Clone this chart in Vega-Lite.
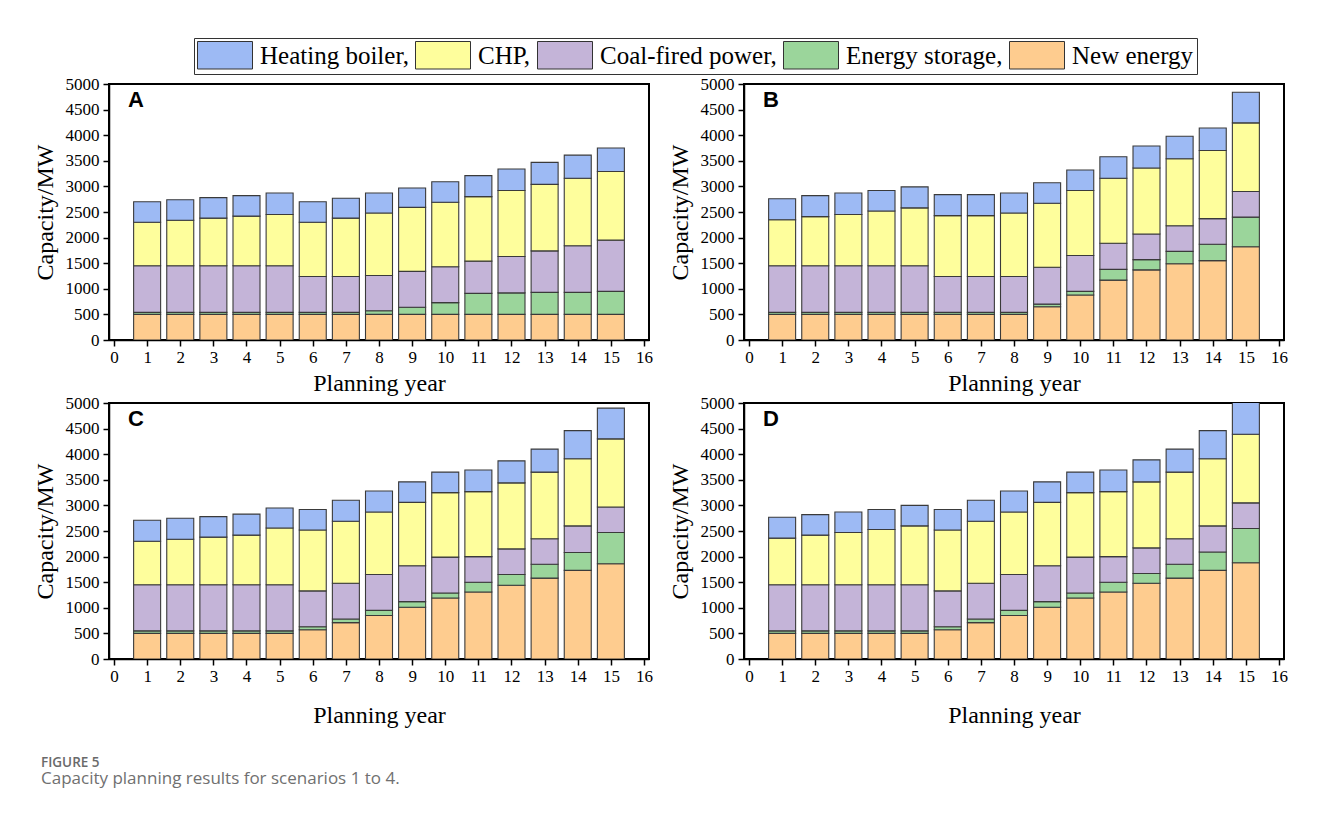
{
  "$schema": "https://vega.github.io/schema/vega-lite/v6.json",
  "background": "white",
  "padding": {"left": 32, "top": 37, "right": 10, "bottom": 10},
  "datasets": {
    "types": [
      {"key": "ne", "type": "New energy", "rank": 1},
      {"key": "es", "type": "Energy storage", "rank": 2},
      {"key": "cf", "type": "Coal-fired power", "rank": 3},
      {"key": "chp", "type": "CHP", "rank": 4},
      {"key": "hb", "type": "Heating boiler", "rank": 5}
    ],
    "cap": [
      {"panel": "A", "year": 1, "ne": 500, "es": 40, "cf": 910, "chp": 850, "hb": 400},
      {"panel": "A", "year": 2, "ne": 500, "es": 40, "cf": 910, "chp": 890, "hb": 400},
      {"panel": "A", "year": 3, "ne": 500, "es": 40, "cf": 910, "chp": 930, "hb": 400},
      {"panel": "A", "year": 4, "ne": 500, "es": 40, "cf": 910, "chp": 970, "hb": 400},
      {"panel": "A", "year": 5, "ne": 500, "es": 40, "cf": 910, "chp": 1000, "hb": 420},
      {"panel": "A", "year": 6, "ne": 500, "es": 40, "cf": 700, "chp": 1060, "hb": 400},
      {"panel": "A", "year": 7, "ne": 500, "es": 40, "cf": 700, "chp": 1140, "hb": 390},
      {"panel": "A", "year": 8, "ne": 500, "es": 70, "cf": 690, "chp": 1220, "hb": 390},
      {"panel": "A", "year": 9, "ne": 500, "es": 140, "cf": 700, "chp": 1250, "hb": 380},
      {"panel": "A", "year": 10, "ne": 500, "es": 230, "cf": 700, "chp": 1260, "hb": 400},
      {"panel": "A", "year": 11, "ne": 500, "es": 410, "cf": 630, "chp": 1260, "hb": 410},
      {"panel": "A", "year": 12, "ne": 500, "es": 420, "cf": 710, "chp": 1290, "hb": 420},
      {"panel": "A", "year": 13, "ne": 500, "es": 430, "cf": 810, "chp": 1300, "hb": 430},
      {"panel": "A", "year": 14, "ne": 500, "es": 430, "cf": 910, "chp": 1320, "hb": 450},
      {"panel": "A", "year": 15, "ne": 500, "es": 450, "cf": 1000, "chp": 1340, "hb": 460},
      {"panel": "B", "year": 1, "ne": 500, "es": 40, "cf": 910, "chp": 900, "hb": 410},
      {"panel": "B", "year": 2, "ne": 500, "es": 40, "cf": 910, "chp": 960, "hb": 410},
      {"panel": "B", "year": 3, "ne": 500, "es": 40, "cf": 910, "chp": 1000, "hb": 420},
      {"panel": "B", "year": 4, "ne": 500, "es": 40, "cf": 910, "chp": 1070, "hb": 400},
      {"panel": "B", "year": 5, "ne": 500, "es": 40, "cf": 910, "chp": 1130, "hb": 410},
      {"panel": "B", "year": 6, "ne": 500, "es": 40, "cf": 700, "chp": 1190, "hb": 410},
      {"panel": "B", "year": 7, "ne": 500, "es": 40, "cf": 700, "chp": 1190, "hb": 410},
      {"panel": "B", "year": 8, "ne": 500, "es": 40, "cf": 700, "chp": 1240, "hb": 390},
      {"panel": "B", "year": 9, "ne": 650, "es": 50, "cf": 720, "chp": 1250, "hb": 400},
      {"panel": "B", "year": 10, "ne": 880, "es": 70, "cf": 700, "chp": 1270, "hb": 400},
      {"panel": "B", "year": 11, "ne": 1170, "es": 210, "cf": 510, "chp": 1270, "hb": 420},
      {"panel": "B", "year": 12, "ne": 1370, "es": 200, "cf": 500, "chp": 1290, "hb": 430},
      {"panel": "B", "year": 13, "ne": 1490, "es": 240, "cf": 500, "chp": 1310, "hb": 440},
      {"panel": "B", "year": 14, "ne": 1550, "es": 320, "cf": 500, "chp": 1330, "hb": 440},
      {"panel": "B", "year": 15, "ne": 1820, "es": 580, "cf": 500, "chp": 1340, "hb": 600},
      {"panel": "C", "year": 1, "ne": 500, "es": 50, "cf": 900, "chp": 850, "hb": 410},
      {"panel": "C", "year": 2, "ne": 500, "es": 50, "cf": 900, "chp": 890, "hb": 410},
      {"panel": "C", "year": 3, "ne": 500, "es": 50, "cf": 900, "chp": 930, "hb": 400},
      {"panel": "C", "year": 4, "ne": 500, "es": 50, "cf": 900, "chp": 970, "hb": 410},
      {"panel": "C", "year": 5, "ne": 500, "es": 50, "cf": 900, "chp": 1110, "hb": 390},
      {"panel": "C", "year": 6, "ne": 570, "es": 60, "cf": 700, "chp": 1190, "hb": 400},
      {"panel": "C", "year": 7, "ne": 710, "es": 70, "cf": 700, "chp": 1210, "hb": 410},
      {"panel": "C", "year": 8, "ne": 850, "es": 100, "cf": 700, "chp": 1220, "hb": 410},
      {"panel": "C", "year": 9, "ne": 1010, "es": 110, "cf": 700, "chp": 1240, "hb": 400},
      {"panel": "C", "year": 10, "ne": 1190, "es": 100, "cf": 700, "chp": 1260, "hb": 400},
      {"panel": "C", "year": 11, "ne": 1310, "es": 190, "cf": 500, "chp": 1270, "hb": 420},
      {"panel": "C", "year": 12, "ne": 1440, "es": 210, "cf": 500, "chp": 1290, "hb": 430},
      {"panel": "C", "year": 13, "ne": 1580, "es": 270, "cf": 500, "chp": 1300, "hb": 450},
      {"panel": "C", "year": 14, "ne": 1730, "es": 350, "cf": 520, "chp": 1310, "hb": 550},
      {"panel": "C", "year": 15, "ne": 1860, "es": 610, "cf": 500, "chp": 1330, "hb": 600},
      {"panel": "D", "year": 1, "ne": 500, "es": 50, "cf": 900, "chp": 910, "hb": 410},
      {"panel": "D", "year": 2, "ne": 500, "es": 50, "cf": 900, "chp": 970, "hb": 400},
      {"panel": "D", "year": 3, "ne": 500, "es": 50, "cf": 900, "chp": 1020, "hb": 400},
      {"panel": "D", "year": 4, "ne": 500, "es": 50, "cf": 900, "chp": 1080, "hb": 390},
      {"panel": "D", "year": 5, "ne": 500, "es": 50, "cf": 900, "chp": 1150, "hb": 400},
      {"panel": "D", "year": 6, "ne": 570, "es": 60, "cf": 700, "chp": 1190, "hb": 400},
      {"panel": "D", "year": 7, "ne": 710, "es": 70, "cf": 700, "chp": 1210, "hb": 410},
      {"panel": "D", "year": 8, "ne": 850, "es": 100, "cf": 700, "chp": 1220, "hb": 410},
      {"panel": "D", "year": 9, "ne": 1010, "es": 110, "cf": 700, "chp": 1240, "hb": 400},
      {"panel": "D", "year": 10, "ne": 1190, "es": 100, "cf": 700, "chp": 1260, "hb": 400},
      {"panel": "D", "year": 11, "ne": 1310, "es": 190, "cf": 500, "chp": 1270, "hb": 420},
      {"panel": "D", "year": 12, "ne": 1480, "es": 190, "cf": 500, "chp": 1290, "hb": 430},
      {"panel": "D", "year": 13, "ne": 1580, "es": 270, "cf": 500, "chp": 1300, "hb": 450},
      {"panel": "D", "year": 14, "ne": 1730, "es": 360, "cf": 510, "chp": 1310, "hb": 550},
      {"panel": "D", "year": 15, "ne": 1880, "es": 670, "cf": 500, "chp": 1340, "hb": 630}
    ]
  },
  "data": {"name": "cap"},
  "transform": [
    {"fold": ["ne", "es", "cf", "chp", "hb"], "as": ["key", "value"]},
    {"lookup": "key", "from": {"data": {"name": "types"}, "key": "key", "fields": ["type", "rank"]}}
  ],
  "title": {
    "text": "FIGURE 5",
    "subtitle": "Capacity planning results for scenarios 1 to 4.",
    "orient": "bottom",
    "anchor": "start",
    "frame": "group",
    "dx": -68,
    "font": "Open Sans",
    "fontSize": 13.5,
    "fontWeight": 600,
    "color": "#6a6a6a",
    "subtitleFont": "Open Sans",
    "subtitleFontSize": 17,
    "subtitleColor": "#707070",
    "subtitlePadding": 1,
    "offset": 28
  },
  "columns": 2,
  "spacing": {"row": 63, "column": 95},
  "bounds": "flush",
  "concat": [
    {
      "transform": [{"filter": "datum.panel == 'A'"}],
      "width": 540, "height": 256,
      "layer": [
        {
          "mark": {"type": "bar", "width": 27, "stroke": "#3a3a3a", "strokeWidth": 1.1, "clip": true},
          "encoding": {
            "x": {"field": "year", "type": "quantitative", "scale": {"domain": [0, 16], "nice": false},
              "axis": {"values": [0,1,2,3,4,5,6,7,8,9,10,11,12,13,14,15,16], "labelFont": "Liberation Serif", "labelFontSize": 17, "labelOverlap": false, "format": "d", "title": "Planning year", "titlePadding": 6}},
            "y": {"field": "value", "type": "quantitative", "stack": "zero", "scale": {"domain": [0, 5000], "nice": false},
              "axis": {"values": [0,500,1000,1500,2000,2500,3000,3500,4000,4500,5000], "labelFont": "Liberation Serif", "labelFontSize": 17, "labelOverlap": false, "format": "d", "title": "Capacity/MW"}},
            "color": {"field": "type", "type": "nominal",
              "scale": {"domain": ["Heating boiler", "CHP", "Coal-fired power", "Energy storage", "New energy"],
                "range": ["#9dbaf4", "#fefe9c", "#c4b4d8", "#9bd59b", "#fecc8f"]},
              "legend": {"labelExpr": "datum.label == 'New energy' ? datum.label : datum.label + ','"}},
            "order": {"field": "rank", "type": "quantitative"}
          }
        },
        {
          "transform": [{"filter": "datum.year == 1 && datum.key == 'ne'"}],
          "mark": {"type": "text", "align": "left", "baseline": "top", "font": "Liberation Sans", "fontWeight": "bold", "fontSize": 22, "color": "#000000"},
          "encoding": {
            "x": {"datum": 0.42, "type": "quantitative", "axis": {"values": [0,1,2,3,4,5,6,7,8,9,10,11,12,13,14,15,16], "labelFont": "Liberation Serif", "labelFontSize": 17, "labelOverlap": false, "format": "d", "title": "Planning year", "titlePadding": 6}},
            "y": {"datum": 4890, "type": "quantitative", "axis": {"values": [0,500,1000,1500,2000,2500,3000,3500,4000,4500,5000], "labelFont": "Liberation Serif", "labelFontSize": 17, "labelOverlap": false, "format": "d", "title": "Capacity/MW"}},
            "text": {"field": "panel"}}
        }
      ]
    },
    {
      "transform": [{"filter": "datum.panel == 'B'"}],
      "width": 540, "height": 256,
      "layer": [
        {
          "mark": {"type": "bar", "width": 27, "stroke": "#3a3a3a", "strokeWidth": 1.1, "clip": true},
          "encoding": {
            "x": {"field": "year", "type": "quantitative", "scale": {"domain": [0, 16], "nice": false},
              "axis": {"values": [0,1,2,3,4,5,6,7,8,9,10,11,12,13,14,15,16], "labelFont": "Liberation Serif", "labelFontSize": 17, "labelOverlap": false, "format": "d", "title": "Planning year", "titlePadding": 6}},
            "y": {"field": "value", "type": "quantitative", "stack": "zero", "scale": {"domain": [0, 5000], "nice": false},
              "axis": {"values": [0,500,1000,1500,2000,2500,3000,3500,4000,4500,5000], "labelFont": "Liberation Serif", "labelFontSize": 17, "labelOverlap": false, "format": "d", "title": "Capacity/MW"}},
            "color": {"field": "type", "type": "nominal",
              "scale": {"domain": ["Heating boiler", "CHP", "Coal-fired power", "Energy storage", "New energy"],
                "range": ["#9dbaf4", "#fefe9c", "#c4b4d8", "#9bd59b", "#fecc8f"]},
              "legend": {"labelExpr": "datum.label == 'New energy' ? datum.label : datum.label + ','"}},
            "order": {"field": "rank", "type": "quantitative"}
          }
        },
        {
          "transform": [{"filter": "datum.year == 1 && datum.key == 'ne'"}],
          "mark": {"type": "text", "align": "left", "baseline": "top", "font": "Liberation Sans", "fontWeight": "bold", "fontSize": 22, "color": "#000000"},
          "encoding": {
            "x": {"datum": 0.42, "type": "quantitative", "axis": {"values": [0,1,2,3,4,5,6,7,8,9,10,11,12,13,14,15,16], "labelFont": "Liberation Serif", "labelFontSize": 17, "labelOverlap": false, "format": "d", "title": "Planning year", "titlePadding": 6}},
            "y": {"datum": 4890, "type": "quantitative", "axis": {"values": [0,500,1000,1500,2000,2500,3000,3500,4000,4500,5000], "labelFont": "Liberation Serif", "labelFontSize": 17, "labelOverlap": false, "format": "d", "title": "Capacity/MW"}},
            "text": {"field": "panel"}}
        }
      ]
    },
    {
      "transform": [{"filter": "datum.panel == 'C'"}],
      "width": 540, "height": 256,
      "layer": [
        {
          "mark": {"type": "bar", "width": 27, "stroke": "#3a3a3a", "strokeWidth": 1.1, "clip": true},
          "encoding": {
            "x": {"field": "year", "type": "quantitative", "scale": {"domain": [0, 16], "nice": false},
              "axis": {"values": [0,1,2,3,4,5,6,7,8,9,10,11,12,13,14,15,16], "labelFont": "Liberation Serif", "labelFontSize": 17, "labelOverlap": false, "format": "d", "title": "Planning year", "titlePadding": 19}},
            "y": {"field": "value", "type": "quantitative", "stack": "zero", "scale": {"domain": [0, 5000], "nice": false},
              "axis": {"values": [0,500,1000,1500,2000,2500,3000,3500,4000,4500,5000], "labelFont": "Liberation Serif", "labelFontSize": 17, "labelOverlap": false, "format": "d", "title": "Capacity/MW"}},
            "color": {"field": "type", "type": "nominal",
              "scale": {"domain": ["Heating boiler", "CHP", "Coal-fired power", "Energy storage", "New energy"],
                "range": ["#9dbaf4", "#fefe9c", "#c4b4d8", "#9bd59b", "#fecc8f"]},
              "legend": {"labelExpr": "datum.label == 'New energy' ? datum.label : datum.label + ','"}},
            "order": {"field": "rank", "type": "quantitative"}
          }
        },
        {
          "transform": [{"filter": "datum.year == 1 && datum.key == 'ne'"}],
          "mark": {"type": "text", "align": "left", "baseline": "top", "font": "Liberation Sans", "fontWeight": "bold", "fontSize": 22, "color": "#000000"},
          "encoding": {
            "x": {"datum": 0.42, "type": "quantitative", "axis": {"values": [0,1,2,3,4,5,6,7,8,9,10,11,12,13,14,15,16], "labelFont": "Liberation Serif", "labelFontSize": 17, "labelOverlap": false, "format": "d", "title": "Planning year", "titlePadding": 19}},
            "y": {"datum": 4890, "type": "quantitative", "axis": {"values": [0,500,1000,1500,2000,2500,3000,3500,4000,4500,5000], "labelFont": "Liberation Serif", "labelFontSize": 17, "labelOverlap": false, "format": "d", "title": "Capacity/MW"}},
            "text": {"field": "panel"}}
        }
      ]
    },
    {
      "transform": [{"filter": "datum.panel == 'D'"}],
      "width": 540, "height": 256,
      "layer": [
        {
          "mark": {"type": "bar", "width": 27, "stroke": "#3a3a3a", "strokeWidth": 1.1, "clip": true},
          "encoding": {
            "x": {"field": "year", "type": "quantitative", "scale": {"domain": [0, 16], "nice": false},
              "axis": {"values": [0,1,2,3,4,5,6,7,8,9,10,11,12,13,14,15,16], "labelFont": "Liberation Serif", "labelFontSize": 17, "labelOverlap": false, "format": "d", "title": "Planning year", "titlePadding": 19}},
            "y": {"field": "value", "type": "quantitative", "stack": "zero", "scale": {"domain": [0, 5000], "nice": false},
              "axis": {"values": [0,500,1000,1500,2000,2500,3000,3500,4000,4500,5000], "labelFont": "Liberation Serif", "labelFontSize": 17, "labelOverlap": false, "format": "d", "title": "Capacity/MW"}},
            "color": {"field": "type", "type": "nominal",
              "scale": {"domain": ["Heating boiler", "CHP", "Coal-fired power", "Energy storage", "New energy"],
                "range": ["#9dbaf4", "#fefe9c", "#c4b4d8", "#9bd59b", "#fecc8f"]},
              "legend": {"labelExpr": "datum.label == 'New energy' ? datum.label : datum.label + ','"}},
            "order": {"field": "rank", "type": "quantitative"}
          }
        },
        {
          "transform": [{"filter": "datum.year == 1 && datum.key == 'ne'"}],
          "mark": {"type": "text", "align": "left", "baseline": "top", "font": "Liberation Sans", "fontWeight": "bold", "fontSize": 22, "color": "#000000"},
          "encoding": {
            "x": {"datum": 0.42, "type": "quantitative", "axis": {"values": [0,1,2,3,4,5,6,7,8,9,10,11,12,13,14,15,16], "labelFont": "Liberation Serif", "labelFontSize": 17, "labelOverlap": false, "format": "d", "title": "Planning year", "titlePadding": 19}},
            "y": {"datum": 4890, "type": "quantitative", "axis": {"values": [0,500,1000,1500,2000,2500,3000,3500,4000,4500,5000], "labelFont": "Liberation Serif", "labelFontSize": 17, "labelOverlap": false, "format": "d", "title": "Capacity/MW"}},
            "text": {"field": "panel"}}
        }
      ]
    }
  ],
  "config": {
    "view": {"stroke": "#000000", "strokeWidth": 2},
    "axis": {
      "domainColor": "#000000",
      "domainWidth": 1.5,
      "tickColor": "#000000",
      "tickWidth": 1.5,
      "tickSize": 6,
      "grid": false,
      "format": "d",
      "labelOverlap": false,
      "labelFont": "Liberation Serif",
      "labelFontSize": 17,
      "labelColor": "#000000",
      "labelPadding": 4,
      "titleFont": "Liberation Serif",
      "titleFontSize": 24,
      "titleFontWeight": "normal",
      "titleColor": "#000000"
    },
    "axisY": {"titlePadding": 8, "labelFlush": false},
    "axisX": {"labelFlush": false, "labelPadding": 3},
    "legend": {
      "orient": "none",
      "legendX": 85,
      "legendY": -46,
      "direction": "horizontal",
      "title": null,
      "symbolType": "M-1,-1H1V0H-1Z",
      "symbolSize": 3025,
      "symbolStrokeColor": "#333333",
      "symbolStrokeWidth": 1,
      "symbolOpacity": 1,
      "labelFont": "Liberation Serif",
      "labelFontSize": 25,
      "labelColor": "#000000",
      "labelBaseline": "bottom",
      "labelOffset": 7,
      "labelLimit": 400,
      "columnPadding": 4,
      "strokeColor": "#333333",
      "padding": 3
    }
  }
}
